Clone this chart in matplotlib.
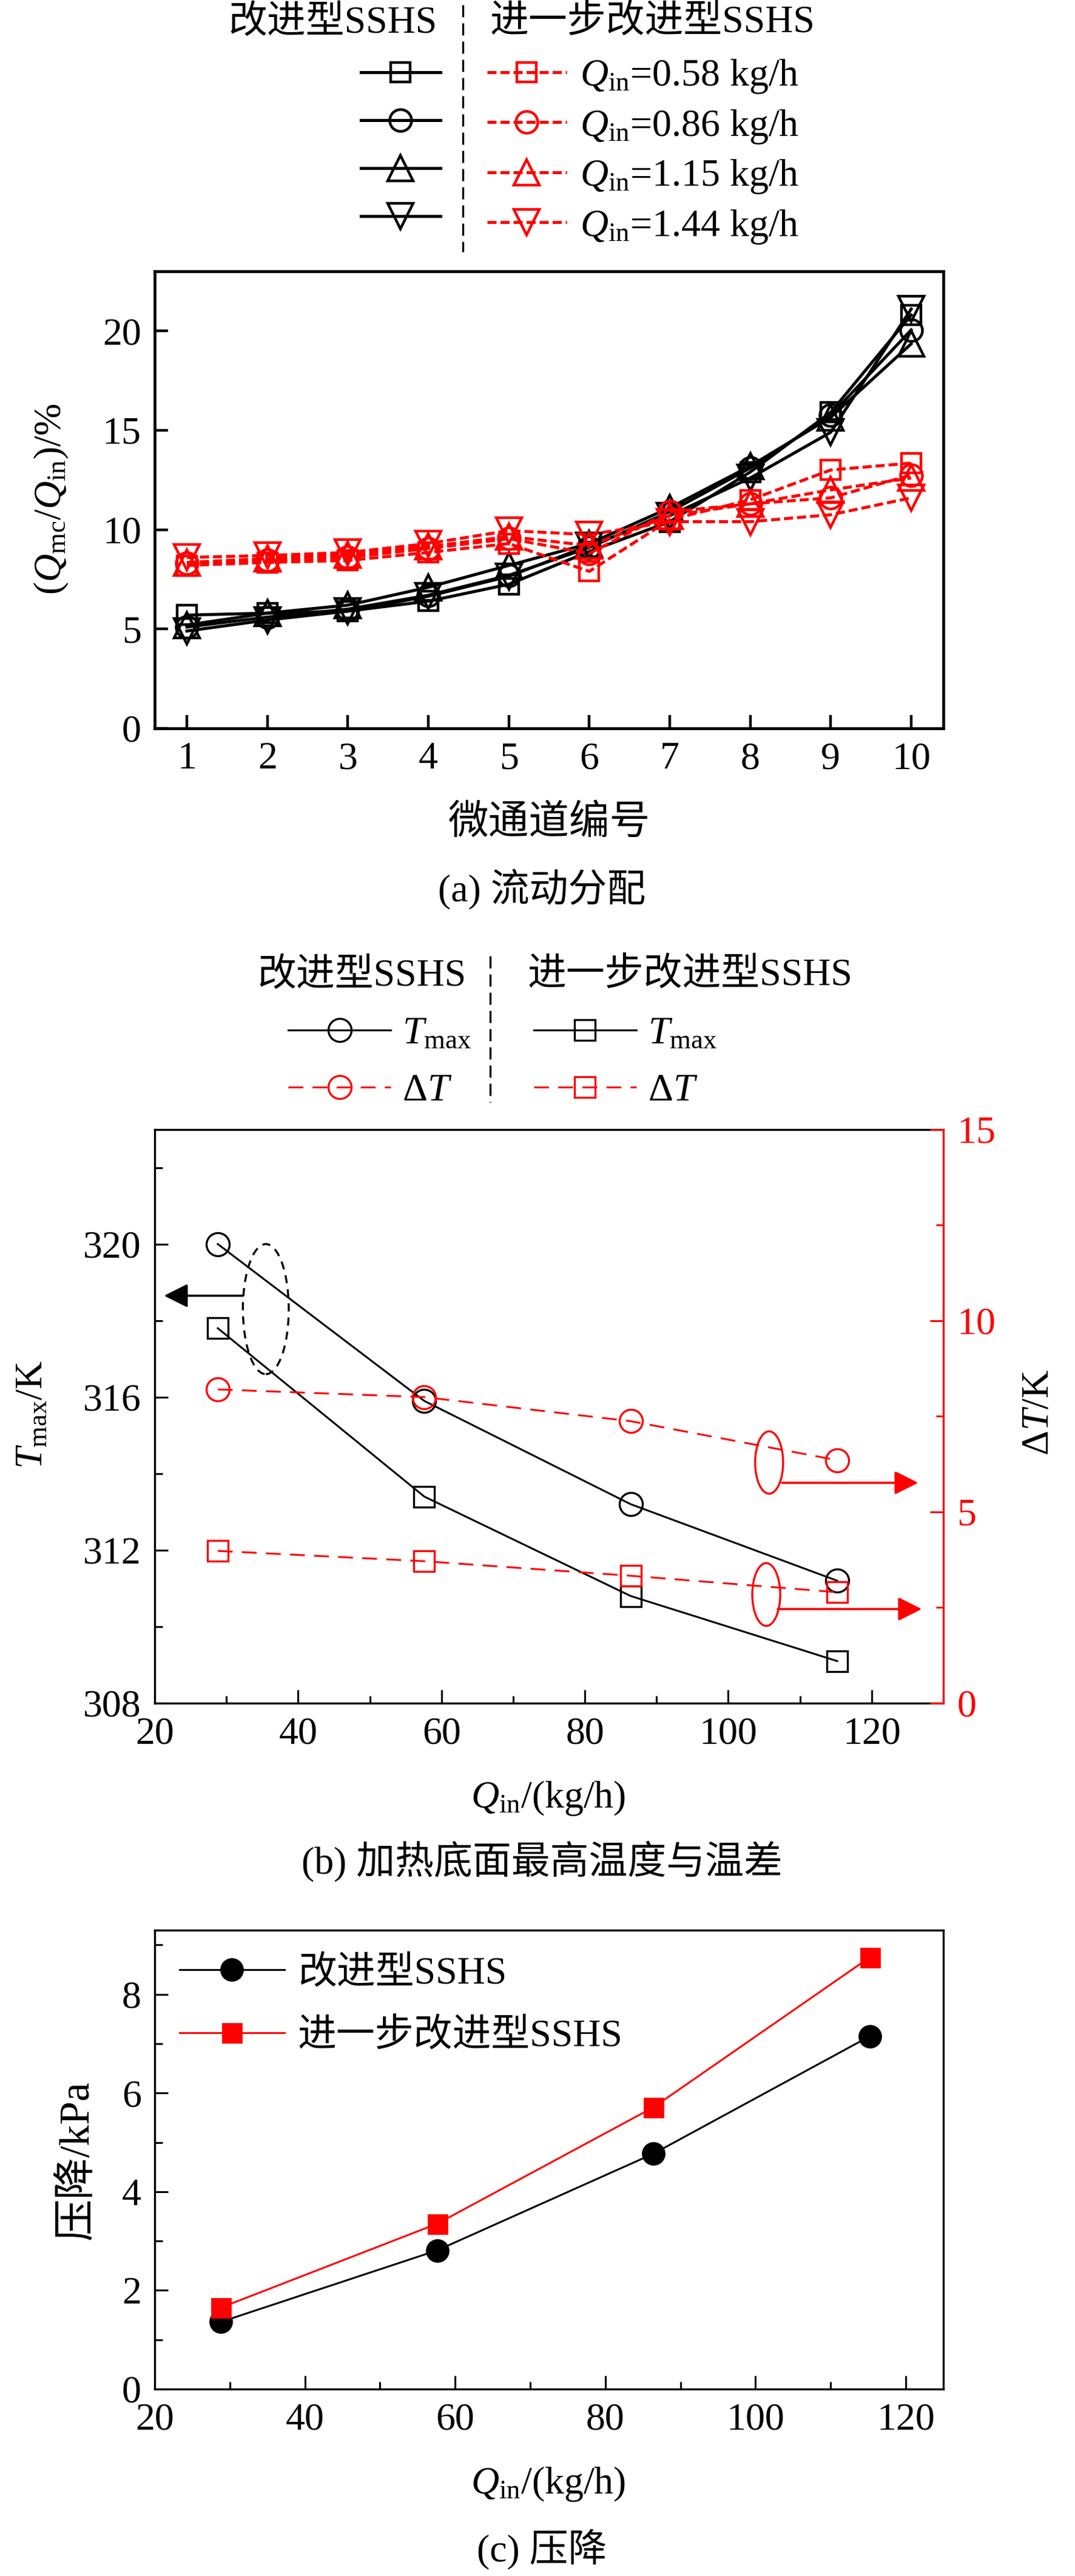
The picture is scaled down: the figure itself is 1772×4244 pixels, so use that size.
import matplotlib
matplotlib.use('Agg')
import matplotlib.pyplot as plt
from matplotlib.patches import Ellipse
from matplotlib.lines import Line2D
from matplotlib.ticker import MultipleLocator, FixedLocator

plt.rcParams['font.family'] = ['Liberation Serif', 'Noto Sans CJK SC']
plt.rcParams['mathtext.fontset'] = 'custom'
plt.rcParams['mathtext.rm'] = 'Liberation Serif'
plt.rcParams['mathtext.it'] = 'Liberation Serif:italic'
plt.rcParams['mathtext.bf'] = 'Liberation Serif:bold'

# ---------------- data ----------------
channels = [1, 2, 3, 4, 5, 6, 7, 8, 9, 10]
flow_rates = ['0.58', '0.86', '1.15', '1.44']
# improved SSHS (black), Qmc/Qin in %
imp_058 = [5.70, 5.80, 5.90, 6.40, 7.25, 8.90, 10.40, 12.90, 15.90, 20.80]
imp_086 = [5.10, 5.60, 6.00, 6.70, 7.70, 9.10, 10.90, 13.10, 15.75, 20.05]
imp_115 = [5.20, 5.80, 6.20, 7.10, 8.20, 9.30, 11.10, 13.20, 15.65, 19.35]
imp_144 = [4.90, 5.45, 5.90, 6.65, 7.65, 9.20, 10.70, 12.60, 14.90, 21.10]
# further improved SSHS (red)
fur_058 = [8.20, 8.35, 8.45, 8.85, 9.30, 7.90, 10.50, 11.50, 13.00, 13.35]
fur_086 = [8.30, 8.45, 8.60, 9.05, 9.55, 8.80, 10.90, 11.30, 11.60, 12.75]
fur_115 = [8.35, 8.55, 8.75, 9.15, 9.65, 9.20, 10.70, 11.30, 12.00, 12.60]
fur_144 = [8.60, 8.70, 8.85, 9.30, 9.95, 9.75, 10.40, 10.40, 10.75, 11.60]

q_in = [28.8, 57.6, 86.4, 115.2]
tmax_imp = [320.0, 315.9, 313.2, 311.2]
tmax_fur = [317.8, 313.4, 310.8, 309.1]
dt_imp = [8.2, 8.0, 7.37, 6.35]
dt_fur = [3.98, 3.71, 3.33, 2.90]

dp_imp = [1.36, 2.81, 4.77, 7.15]
dp_fur = [1.65, 3.35, 5.71, 8.75]

lab_imp = '改进型SSHS'
lab_fur = '进一步改进型SSHS'

# ---------------- figure ----------------
W, H = 1772, 4244
DPI = 200
fig = plt.figure(figsize=(W / DPI, H / DPI), dpi=DPI)
FS = 23
RED = '#FF0000'


def fx(x):
    return x / W


def fy(y):
    return 1 - y / H


def pt(px):
    return px * 72 / DPI


def style_axes(ax, lw, major_len, minor_len, width):
    for s in ax.spines.values():
        s.set_linewidth(lw)
    ax.tick_params(which='major', direction='in', length=major_len, width=width,
                   labelsize=FS, pad=8)
    ax.tick_params(which='minor', direction='in', length=minor_len, width=width)


# ================= (a) =================
ax1 = fig.add_axes([fx(255), fy(1200), 1300 / W, 753 / H])
markers = ['s', 'o', '^', 'v']
msizes = [pt(32), pt(36), pt(42), pt(42)]
imp_all = [imp_058, imp_086, imp_115, imp_144]
fur_all = [fur_058, fur_086, fur_115, fur_144]
h_black, h_red = [], []
for m, ms, y in zip(markers, msizes, imp_all):
    l, = ax1.plot(channels, y, color='k', lw=1.8, marker=m, ms=ms, mfc='none',
                  mec='k', mew=1.6)
    h_black.append(l)
for m, ms, y in zip(markers, msizes, fur_all):
    l, = ax1.plot(channels, y, color=RED, lw=1.8, ls=(0, (3, 1.3)), marker=m, ms=ms,
                  mfc='none', mec=RED, mew=1.6)
    h_red.append(l)
ax1.set_xlim(0.6, 10.4)
ax1.set_ylim(0, 23)
ax1.xaxis.set_major_locator(FixedLocator(channels))
ax1.yaxis.set_major_locator(MultipleLocator(5))
style_axes(ax1, 1.7, 8, 4, 1.6)

fig.text(fx(85), fy(822), r'($Q_{\rm mc}$/$Q_{\rm in}$)/%', rotation=90,
         ha='center', va='center', fontsize=FS)
fig.text(fx(905), fy(1357), '微通道编号', ha='center', va='center', fontsize=FS + 1)
fig.text(fx(893), fy(1466), '(a) 流动分配', ha='center', va='center', fontsize=FS)

# legend (a)
leg_a = fig.legend(h_black + h_red,
                   [''] * 4 + [r'$Q_{\rm in}$=%s kg/h' % f for f in flow_rates],
                   ncol=2, loc='center left', bbox_to_anchor=(fx(595), fy(250)),
                   frameon=False, fontsize=FS, borderpad=0, borderaxespad=0,
                   handlelength=2.05, handletextpad=0.35, labelspacing=0.32,
                   columnspacing=0.85)
fig.text(fx(548), fy(38), lab_imp, ha='center', va='center', fontsize=FS)
fig.text(fx(1076), fy(38), lab_fur, ha='center', va='center', fontsize=FS)
fig.add_artist(Line2D([fx(763), fx(763)], [fy(8), fy(415)], transform=fig.transFigure,
                      color='k', lw=1.2, ls=(0, (6, 3))))

# ================= (b) =================
ax2 = fig.add_axes([fx(255), fy(2806), 1300 / W, 945.5 / H])
ax2r = ax2.twinx()
hb1, = ax2.plot(q_in, tmax_imp, color='k', lw=1.1, marker='o', ms=pt(38), mfc='none',
                mec='k', mew=1.2)
hb2, = ax2.plot(q_in, tmax_fur, color='k', lw=1.1, marker='s', ms=pt(34), mfc='none',
                mec='k', mew=1.2)
hr1, = ax2r.plot(q_in, dt_imp, color=RED, lw=1.1, ls=(0, (8, 5)), marker='o', ms=pt(38),
                 mfc='none', mec=RED, mew=1.2)
hr2, = ax2r.plot(q_in, dt_fur, color=RED, lw=1.1, ls=(0, (8, 5)), marker='s', ms=pt(34),
                 mfc='none', mec=RED, mew=1.2)
ax2.set_xlim(20, 130)
ax2.set_ylim(308, 323)
ax2r.set_ylim(0, 15)
ax2.xaxis.set_major_locator(FixedLocator([20, 40, 60, 80, 100, 120]))
ax2.xaxis.set_minor_locator(MultipleLocator(10))
ax2.yaxis.set_major_locator(FixedLocator([308, 312, 316, 320]))
ax2.yaxis.set_minor_locator(MultipleLocator(2))
ax2r.yaxis.set_major_locator(MultipleLocator(5))
ax2r.yaxis.set_minor_locator(MultipleLocator(2.5))
style_axes(ax2, 1.2, 8, 4.5, 1.1)
style_axes(ax2r, 1.2, 8, 4.5, 1.1)
ax2.spines['right'].set_visible(False)
ax2r.spines['left'].set_visible(False)
ax2r.spines['top'].set_visible(False)
ax2r.spines['bottom'].set_visible(False)
ax2r.spines['right'].set_color(RED)
ax2r.tick_params(which='both', colors=RED, labelcolor=RED)

# annotations (b)
ax2.add_patch(Ellipse((35.5, 318.3), 6.4, 3.4, fill=False, ec='k', lw=1.2, ls=(0, (4, 3))))
ax2.annotate('', xy=(21.3, 318.65), xytext=(32.3, 318.65),
             arrowprops=dict(arrowstyle='-|>', color='k', lw=1.3, mutation_scale=30,
                             shrinkA=0, shrinkB=0))
ax2r.add_patch(Ellipse((105.7, 6.29), 3.9, 1.63, fill=False, ec=RED, lw=1.2))
ax2r.annotate('', xy=(126.5, 5.76), xytext=(107.5, 5.76),
              arrowprops=dict(arrowstyle='-|>', color=RED, lw=1.3, mutation_scale=30,
                              shrinkA=0, shrinkB=0))
ax2r.add_patch(Ellipse((105.3, 2.84), 3.9, 1.64, fill=False, ec=RED, lw=1.2))
ax2r.annotate('', xy=(127.0, 2.46), xytext=(106.9, 2.46),
              arrowprops=dict(arrowstyle='-|>', color=RED, lw=1.3, mutation_scale=30,
                              shrinkA=0, shrinkB=0))

fig.text(fx(54), fy(2330), r'$T_{\rm max}$/K', rotation=90, ha='center', va='center',
         fontsize=FS)
fig.text(fx(1712), fy(2327), r'$\Delta T$/K', rotation=90, ha='center', va='center',
         fontsize=FS)
fig.text(fx(904), fy(2962), r'$Q_{\rm in}$/(kg/h)', ha='center', va='center', fontsize=FS)
fig.text(fx(893), fy(3067), '(b) 加热底面最高温度与温差', ha='center', va='center',
         fontsize=FS)

leg_b = fig.legend([hb1, hr1, hb2, hr2],
                   [r'$T_{\rm max}$', r'$\Delta T$', r'$T_{\rm max}$', r'$\Delta T$'],
                   ncol=2, loc='center left', bbox_to_anchor=(fx(475), fy(1751)),
                   frameon=False, fontsize=FS, borderpad=0, borderaxespad=0,
                   handlelength=2.65, handletextpad=0.3, labelspacing=0.55,
                   columnspacing=1.6)
fig.text(fx(596), fy(1608), lab_imp, ha='center', va='center', fontsize=FS)
fig.text(fx(1138), fy(1608), lab_fur, ha='center', va='center', fontsize=FS)
fig.add_artist(Line2D([fx(808), fx(808)], [fy(1575), fy(1816)], transform=fig.transFigure,
                      color='k', lw=1.2, ls=(0, (6, 3))))

# ================= (c) =================
ax3 = fig.add_axes([fx(255), fy(3936), 1300 / W, 756 / H])
ax3.plot(q_in, dp_imp, color='k', lw=1.1, marker='o', ms=pt(36), mfc='k', mec='k',
         label=lab_imp)
ax3.plot(q_in, dp_fur, color=RED, lw=1.1, marker='s', ms=pt(31), mfc=RED, mec=RED,
         label=lab_fur)
ax3.set_xlim(20, 125)
ax3.set_ylim(0, 9.3)
ax3.xaxis.set_major_locator(FixedLocator([20, 40, 60, 80, 100, 120]))
ax3.xaxis.set_minor_locator(MultipleLocator(10))
ax3.yaxis.set_major_locator(FixedLocator([0, 2, 4, 6, 8]))
ax3.yaxis.set_minor_locator(MultipleLocator(1))
style_axes(ax3, 1.2, 8, 4.5, 1.1)
ax3.legend(loc='center left', bbox_to_anchor=(fx(296), fy(3304)),
           bbox_transform=fig.transFigure, frameon=False, fontsize=FS, borderpad=0,
           borderaxespad=0, handlelength=2.7, handletextpad=0.35, labelspacing=0.7)
fig.text(fx(128), fy(3559), '压降/kPa', rotation=90, ha='center', va='center',
         fontsize=FS + 2)
fig.text(fx(904), fy(4093), r'$Q_{\rm in}$/(kg/h)', ha='center', va='center', fontsize=FS)
fig.text(fx(893), fy(4201), '(c) 压降', ha='center', va='center', fontsize=FS)

fig.savefig('out.png', dpi=DPI)
